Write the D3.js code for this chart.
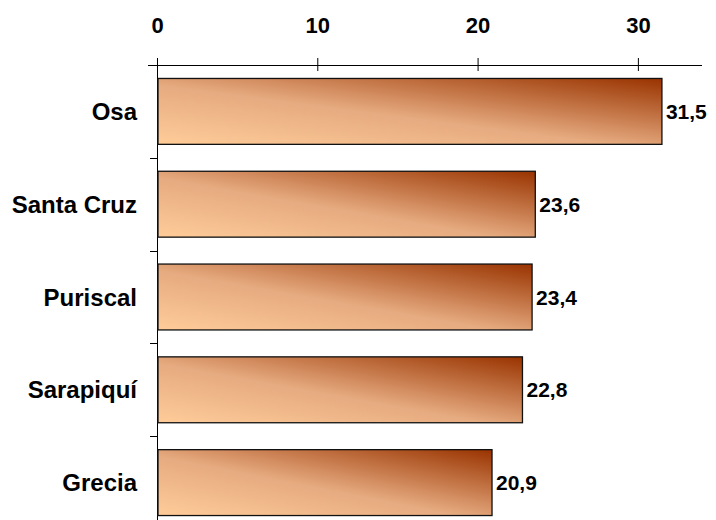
<!DOCTYPE html>
<html>
<head>
<meta charset="utf-8">
<script src="https://cdn.jsdelivr.net/npm/d3@7"></script>
<style>
  body { margin: 0; background: #fff; }
</style>
</head>
<body>
<div id="chart"></div>
<script>
// Chart values
const categories = ['Osa', 'Santa Cruz', 'Puriscal', 'Sarapiquí', 'Grecia']
const values = [31.5, 23.6, 23.4, 22.8, 20.9]
const tickValues = [0, 10, 20, 30]

const width = 716
const height = 520
const margin = {left: 157, right: 14, top: 65, bottom: -9}
const fontSize = '21px'

const svg = d3.select('#chart')
  .append('svg')
  .attr('width', width)
  .attr('height', height)
  .style('font-family', 'Arial, "Liberation Sans", sans-serif')

// Gradient used by every bar: light peach bottom-left to rust top-right
const grad = svg.append('defs').append('linearGradient')
  .attr('id', 'barFill')
  .attr('x1', 0).attr('y1', 1)
  .attr('x2', 1).attr('y2', 0)
grad.append('stop').attr('offset', '0%').attr('stop-color', '#ffcc99')
grad.append('stop').attr('offset', '45%').attr('stop-color', '#e6ab80')
grad.append('stop').attr('offset', '100%').attr('stop-color', '#993300')

const xScale = d3.scaleLinear()
  .domain([0, 34])
  .range([margin.left, width - margin.right])

const yScale = d3.scaleBand()
  .domain(categories)
  .range([margin.top, height - margin.bottom])
  .paddingInner(0.29)
  .paddingOuter(0.145)

// Top axis
const tAxis = svg.append('g')
  .attr('transform', `translate(0,${margin.top})`)
  .call(d3.axisTop(xScale)
    .tickValues(tickValues)
    .tickSize(7)
    .tickSizeOuter(0)
    .tickFormat(d3.format('d')))
tAxis.select('.domain').attr('stroke', '#000').attr('stroke-width', 1)
  .attr('d', `M${margin.left - 9},0.5H${width - margin.right}`)
tAxis.selectAll('.tick line').attr('y2', 6).attr('y1', -7)
tAxis.selectAll('.tick text')
  .attr('y', -32)
  .attr('dy', 0)
  .style('font-size', '22px')
  .style('font-weight', 'bold')
  .attr('fill', '#000')

// Left axis: line with ticks between bars
const step = yScale.step()
const lAxis = svg.append('g')
lAxis.append('line')
  .attr('x1', margin.left + 0.5).attr('x2', margin.left + 0.5)
  .attr('y1', margin.top).attr('y2', height)
  .attr('stroke', '#000')
const bounds = d3.range(1, categories.length).map(i => yScale(categories[i]) - yScale.paddingInner() * step / 2)
lAxis.selectAll('.ltick')
  .data(bounds)
  .join('line')
  .attr('class', 'ltick')
  .attr('x1', margin.left - 7).attr('x2', margin.left)
  .attr('y1', d => Math.round(d) + 0.5).attr('y2', d => Math.round(d) + 0.5)
  .attr('stroke', '#000')

// Category labels
svg.selectAll('.catLabel')
  .data(categories)
  .join('text')
  .attr('class', 'catLabel')
  .attr('x', margin.left - 20)
  .attr('y', d => yScale(d) + yScale.bandwidth() / 2)
  .attr('dy', '0.36em')
  .attr('text-anchor', 'end')
  .style('font-size', '24px')
  .style('font-weight', 'bold')
  .text(d => d)

// Bars
const data = categories.map((c, i) => ({label: c, value: values[i]}))
svg.selectAll('.bar')
  .data(data)
  .join('rect')
  .attr('class', 'bar')
  .attr('x', xScale(0) + 1)
  .attr('y', d => yScale(d.label))
  .attr('width', d => xScale(d.value) - xScale(0) - 1)
  .attr('height', yScale.bandwidth())
  .style('fill', 'url(#barFill)')
  .style('stroke', '#111')
  .style('stroke-width', 1.3)

// Value labels
svg.selectAll('.barLabel')
  .data(data)
  .join('text')
  .attr('class', 'barLabel')
  .attr('x', d => xScale(d.value) + 4)
  .attr('y', d => yScale(d.label) + yScale.bandwidth() / 2)
  .attr('dy', '0.36em')
  .style('font-size', fontSize)
  .style('font-weight', 'bold')
  .text(d => d3.format('.1f')(d.value).replace('.', ','))
</script>
</body>
</html>
